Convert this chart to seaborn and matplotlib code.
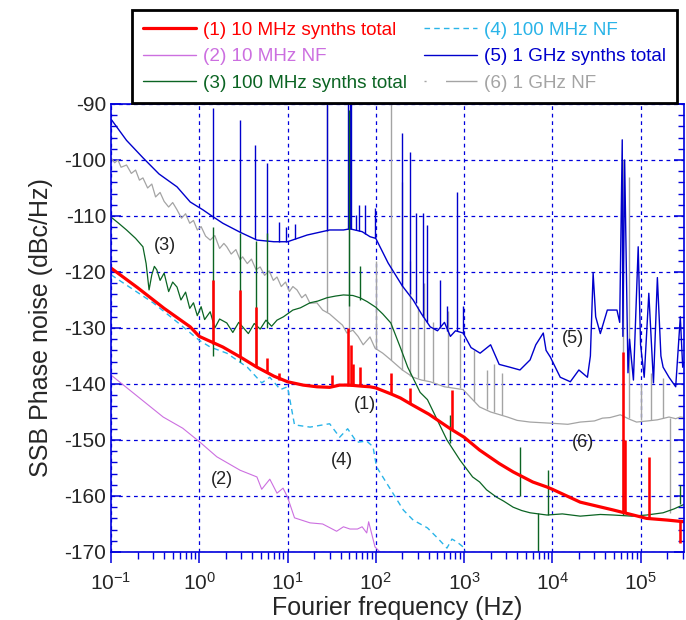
import numpy as np
import pandas as pd
import seaborn as sns
import matplotlib
matplotlib.use("Agg")
import matplotlib.pyplot as plt
from matplotlib.lines import Line2D
from matplotlib.ticker import LogLocator, MultipleLocator, NullFormatter

# ---- data (frequency in Hz, level in dBc/Hz) ----
f1 = [0.1, 0.2, 0.4, 0.79, 1.0, 1.85, 3.0, 4.5, 7, 10, 15, 21.5, 30, 39, 50, 70, 86, 100,
      150, 190, 250, 400, 700, 1000, 1500, 2500, 3600, 6000, 8700, 10000, 20700, 49000,
      117000, 200000, 310000]
v1 = [-119.3, -122.8, -126.5, -129.8, -131.5, -133.4, -135.3, -137, -138.6, -139.6, -140.2,
      -140.5, -140.6, -140.2, -140.2, -140.4, -140.5, -140.7, -141.8, -142.5, -143.6, -145.4,
      -148.0, -149.5, -151.8, -154.2, -155.7, -157.5, -158.4, -158.8, -161.1, -162.5,
      -164.0, -164.3, -164.6]
sp1_f = [1.43, 2.9, 4.4, 5.8, 8.0, 32, 48, 52, 55, 66, 148, 245, 730, 63000, 66000, 124000, 280000]
sp1_lo = [-132.8, -135.2, -136.9, -137.8, -139.2, -140.6, -140.3, -140.3, -140.2, -140.4,
          -141.8, -143.5, -148.1, -162.8, -162.8, -164.0, -164.5]
sp1_hi = [-121.4, -123.2, -126.2, -135.4, -138.0, -138.4, -130.0, -133.0, -136.5, -137.0,
          -138.0, -140.7, -141.0, -134.3, -150.0, -153.0, -168.4]

f2 = [0.1, 0.39, 0.65, 1.02, 1.58, 2.9, 4.5, 5.1, 6.3, 7.6, 8.9, 10, 12, 18, 25, 36, 43, 51,
      62, 70, 79, 83, 98, 120]
v2 = [-138.4, -145.9, -147.9, -150.4, -153, -155.4, -156.6, -158.8, -157, -159.5, -158.6,
      -160.2, -163.9, -164.8, -165, -166.3, -165.5, -165.9, -165.9, -165.5, -166.6, -164.6,
      -169.1, -170.5]

f3 = [0.1, 0.12, 0.15, 0.19, 0.23, 0.25, 0.27, 0.29, 0.31, 0.33, 0.36, 0.4, 0.45, 0.5, 0.56,
      0.62, 0.7, 0.78, 0.86, 0.95, 1.05, 1.15, 1.33, 1.5, 1.7, 2.05, 2.4, 2.8, 3.1, 3.6, 4.2,
      4.9, 5.7, 6.6, 7.6, 9, 11.5, 14, 18, 22, 28, 35, 43, 55, 66, 80, 100, 120, 148, 190,
      230, 318, 385, 500, 640, 900, 1250, 1500, 1800, 2330, 2800, 3600, 4500, 5600, 8700,
      13000, 20700, 35000, 49000, 80000, 117000, 180000, 240000, 282000, 310000]
v3 = [-110.2, -111.2, -112.5, -114.0, -115.5, -118.5, -123.2, -120.5, -119.0, -119.6, -121.5,
      -120.2, -123.5, -121.8, -122.7, -125.0, -123.6, -126.5, -125.5, -127.8, -126.2, -128.5,
      -127.1, -130.0, -128.4, -129.1, -130.8, -129.0, -129.8, -131.0, -129.2, -130.2, -128.6,
      -129.7, -128.6, -128.0, -126.8, -126.4, -125.5, -125.2, -124.6, -124.3, -124.1, -124.2,
      -124.6, -125.3, -126.3, -127.5, -129.1, -133.5, -137.0, -141.5, -142.8, -146.5, -150.0,
      -153.6, -156.6, -157.5, -158.9, -160.2, -160.9, -162.0, -162.6, -163.0, -163.4, -163.2,
      -163.6, -163.3, -163.4, -163.6, -163.4, -163.0, -162.3, -161.8, -161.5]
sp3_f = [1.43, 2.9, 4.4, 5.8, 50, 66, 700, 4300, 6800, 9000, 63000, 280000]
sp3_lo = [-135, -136, -137, -130, -126, -125, -150.5, -160, -170.5, -163.4, -163.4, -161.5]
sp3_hi = [-112, -113, -114.5, -113, -91, -119, -145.5, -151.3, -163, -155.4, -150, -158]

f4 = [0.1, 0.3, 0.6, 1.0, 1.33, 2.05, 3.5, 5.1, 6.3, 8.3, 10, 12, 18, 30, 39, 48, 61, 79, 93,
      102, 148, 205, 265, 385, 500, 640, 730, 830, 977, 1100]
v4 = [-120.5, -125.5, -129.3, -132.2, -133.4, -134.5, -137, -139.8, -138.8, -141, -140.5,
      -147.3, -147.7, -147.1, -149.5, -148, -150.4, -150.2, -151.2, -154.8, -158.9, -162.5,
      -164.3, -165.7, -167.5, -169.3, -167.7, -168.2, -169.1, -171]

f5 = [0.1, 0.15, 0.23, 0.35, 0.56, 0.79, 1.1, 1.33, 1.85, 2.9, 4.5, 7, 10, 16.7, 30, 43, 51,
      70, 86, 100, 138, 200, 265, 330, 414, 500, 600, 700, 800, 977, 1200, 1520, 2000, 2500,
      3300, 4300, 5600, 6500, 7900, 8500, 9500, 12300, 16000, 20000, 25000, 27000, 29000,
      31000, 35000, 42000, 54000, 58000, 62000, 63000, 66000, 72000, 75000, 83000, 94000,
      100000, 110000, 124000, 140000, 155000, 170000, 180000, 210000, 250000, 282000, 300000,
      316000]
v5 = [-92.7, -96.5, -99.6, -102.5, -104.8, -107.5, -108.9, -109.8, -111.3, -112.9, -114.3,
      -114.6, -114.6, -113.4, -112.5, -112.5, -112.3, -112.8, -113.7, -114.0, -118.4, -122.5,
      -125, -127.5, -129.8, -130.5, -129.0, -131.5, -130.5, -130.9, -133.5, -134.5, -133.0,
      -136.5, -137, -137.5, -135.7, -133, -130.9, -134, -135.2, -138.8, -139.6, -137.5,
      -138.8, -135, -120.2, -128, -131, -126.8, -126.8, -129, -96.4, -131.5, -100, -138,
      -132, -139.3, -115.5, -133, -138.8, -123.8, -139.8, -121, -135, -137, -138.8, -140.5,
      -128, -137, -135.7]
sp5_f = [1.43, 2.9, 4.3, 5.8, 8, 9.5, 12, 28, 48, 51, 53, 60, 65, 76, 98, 200, 245, 286, 340,
         385, 537, 640, 830, 970]
sp5_lo = [-110.5, -112.9, -114.2, -114.5, -114.6, -114.6, -114.2, -112.6, -112.3, -112.3,
          -112.3, -112.5, -112.6, -113.2, -114.0, -122.5, -124, -125.5, -128, -129, -130,
          -130.5, -130.5, -131]
sp5_hi = [-90.7, -92.9, -97.3, -100.5, -111, -112, -111.5, -90, -90, -90, -90, -109.8, -108,
          -108, -108.6, -95.2, -98.6, -109.5, -109.5, -111.6, -121.4, -126, -105.7, -126]

f6 = [0.1, 0.11, 0.12, 0.13, 0.15, 0.17, 0.19, 0.21, 0.23, 0.26, 0.29, 0.32, 0.36, 0.4, 0.45,
      0.5, 0.56, 0.63, 0.7, 0.78, 0.86, 0.95, 1.05, 1.18, 1.33, 1.5, 1.7, 1.9, 2.05, 2.3, 2.6,
      2.9, 3.1, 3.5, 3.9, 4.4, 4.9, 5.5, 6.2, 6.9, 7.6, 8.5, 9.5, 10.5, 11.5, 12.8, 14.5, 16,
      18, 21.5, 25, 30, 36, 42, 47, 55, 63, 72, 86, 98, 120, 148, 200, 265, 330, 414, 600,
      977, 1200, 1500, 2000, 3100, 4000, 5600, 9500, 15000, 20700, 30000, 37000, 45000,
      59000, 75000, 90000, 120000, 155000, 210000, 250000, 280000, 316000]
v6 = [-99.6, -100.5, -100.0, -101.3, -100.9, -102.4, -101.8, -103.6, -103.2, -105.0, -104.3,
      -106.6, -105.8, -107.4, -108.4, -107.6, -108.9, -110.4, -109.6, -111.3, -110.8, -112.5,
      -111.9, -113.6, -114.3, -113.5, -115.8, -114.9, -115.5, -116.8, -116.0, -117.8, -117.3,
      -118.5, -117.7, -119.6, -119.1, -120.6, -119.8, -121.5, -120.9, -122.6, -121.8, -123.5,
      -122.6, -123.2, -124.6, -124.0, -125.6, -125.5, -126.8, -127.5, -128.6, -129.5, -130.9,
      -130.4, -131.5, -133, -131.6, -133.6, -134.5, -135.7, -137.5, -138.8, -139.3, -139.6,
      -140.5, -141, -142.5, -144.1, -145.0, -145.9, -146.5, -146.8, -147, -147.2, -146.8,
      -146.6, -146.1, -146.0, -145.5, -146.3, -146.8, -146.6, -146.4, -145.9, -146.2, -145.9,
      -146.0]
sp6_f = [28, 50, 100, 150, 200, 245, 300, 350, 450, 650, 900, 1300, 1800, 2200, 2700, 63000,
         73000, 100000, 130000, 180000, 218000]
sp6_lo = [-127.2, -130.5, -133.8, -135.7, -137.5, -138.5, -139, -139.3, -139.7, -140.5,
          -140.8, -143, -144.5, -145, -145.5, -146, -146, -146.5, -146.5, -146, -146]
sp6_hi = [-90, -110, -118, -90, -104, -118, -126, -122, -129, -127, -131, -134, -137.5,
          -136.5, -138, -100, -103, -140, -138, -139, -163]

names = ["(1) 10 MHz synths total", "(2) 10 MHz NF", "(3) 100 MHz synths total",
         "(4) 100 MHz NF", "(5) 1 GHz synths total", "(6) 1 GHz NF"]
colors = ["#ff0000", "#cc6fe0", "#0b6423", "#2ab4e8", "#0000cc", "#a4a4a4"]

tags = ["(1)", "(2)", "(3)", "(4)", "(5)", "(6)"]
tag_f = [76, 1.81, 0.41, 41.6, 17300, 22400]
tag_v = [-143.75, -157.1, -115.2, -153.6, -131.8, -150.4]


def main():
    sns.set_theme(style="white")
    plt.rcParams["font.family"] = ["Liberation Sans", "DejaVu Sans"]
    plt.rcParams["mathtext.fontset"] = "custom"
    plt.rcParams["mathtext.rm"] = "Liberation Sans"
    plt.rcParams["mathtext.it"] = "Liberation Sans:italic"
    plt.rcParams["axes.unicode_minus"] = False

    fig = plt.figure(figsize=(6.86, 6.2), dpi=100)
    ax = fig.add_axes([0.1618, 0.1097, 0.8352, 0.7226])

    blue = "#0000dd"
    series = [
        (f6, v6, sp6_f, sp6_lo, sp6_hi, 5, 0.9, "-"),
        (f5, v5, sp5_f, sp5_lo, sp5_hi, 4, 1.0, "-"),
        (f4, v4, None, None, None, 3, 1.0, (0, (4, 3))),
        (f2, v2, None, None, None, 1, 0.8, "-"),
        (f3, v3, sp3_f, sp3_lo, sp3_hi, 2, 0.9, "-"),
        (f1, v1, sp1_f, sp1_lo, sp1_hi, 0, 2.3, "-"),
    ]
    for fx, vy, sf, slo, shi, ci, lw, ls in series:
        df = pd.DataFrame({"f": fx, "v": vy})
        sns.lineplot(data=df, x="f", y="v", ax=ax, color=colors[ci], lw=lw, ls=ls,
                     estimator=None, sort=False)
        if sf is not None:
            ax.vlines(sf, slo, shi, color=colors[ci], lw=max(lw * 0.8, 1.0))

    for t, x, y in zip(tags, tag_f, tag_v):
        ax.text(x, y, t, fontsize=13, ha="center", va="center", color="#222222")

    ax.set_xscale("log")
    ax.set_xlim(0.1, 3.1e5)
    ax.set_ylim(-170, -90)
    ax.yaxis.set_major_locator(MultipleLocator(10))
    ax.yaxis.set_minor_locator(MultipleLocator(2))
    ax.xaxis.set_major_locator(LogLocator(base=10, numticks=20))
    ax.xaxis.set_minor_locator(LogLocator(base=10, subs=np.arange(2, 10), numticks=20))
    ax.xaxis.set_minor_formatter(NullFormatter())

    ax.grid(True, which="major", color=blue, ls=(0, (3, 3)), lw=0.9)
    for s in ax.spines.values():
        s.set_color(blue)
        s.set_linewidth(1.2)

    ax.tick_params(axis="x", which="both", direction="out", bottom=True, top=False,
                   color=blue, labelsize=15, pad=6)
    ax.tick_params(axis="x", which="major", length=8, width=1.1)
    ax.tick_params(axis="x", which="minor", length=5, width=1.0)
    ax.tick_params(axis="y", which="both", direction="in", left=True, right=True,
                   color=blue, labelsize=15)
    ax.tick_params(axis="y", which="major", length=7, width=1.1)
    ax.tick_params(axis="y", which="minor", length=4, width=1.0)

    ax.set_xlabel("Fourier frequency (Hz)", fontsize=18, labelpad=2)
    ax.set_ylabel("SSB Phase noise (dBc/Hz)", fontsize=18, labelpad=8)

    handles = [
        Line2D([], [], color=colors[0], lw=2.3),
        Line2D([], [], color=colors[1], lw=1.0),
        Line2D([], [], color=colors[2], lw=1.0),
        Line2D([], [], color=colors[3], lw=1.0, ls=(0, (4, 3))),
        Line2D([], [], color=colors[4], lw=1.0),
        Line2D([], [], color=colors[5], lw=1.0, ls=(0, (1.5, 14, 23, 2))),
    ]
    leg = fig.legend(handles, names, ncol=2, loc="upper left",
                     bbox_to_anchor=(132 / 686, 1 - 10 / 620),
                     fontsize=13.6, handlelength=2.8, handletextpad=0.37,
                     columnspacing=0.9, borderaxespad=0.0, borderpad=0.6,
                     labelspacing=0.5, fancybox=False, framealpha=1,
                     edgecolor="black", labelcolor=colors)
    leg.get_frame().set_linewidth(2)

    fig.savefig("out.png", dpi=100)


if __name__ == "__main__":
    main()
